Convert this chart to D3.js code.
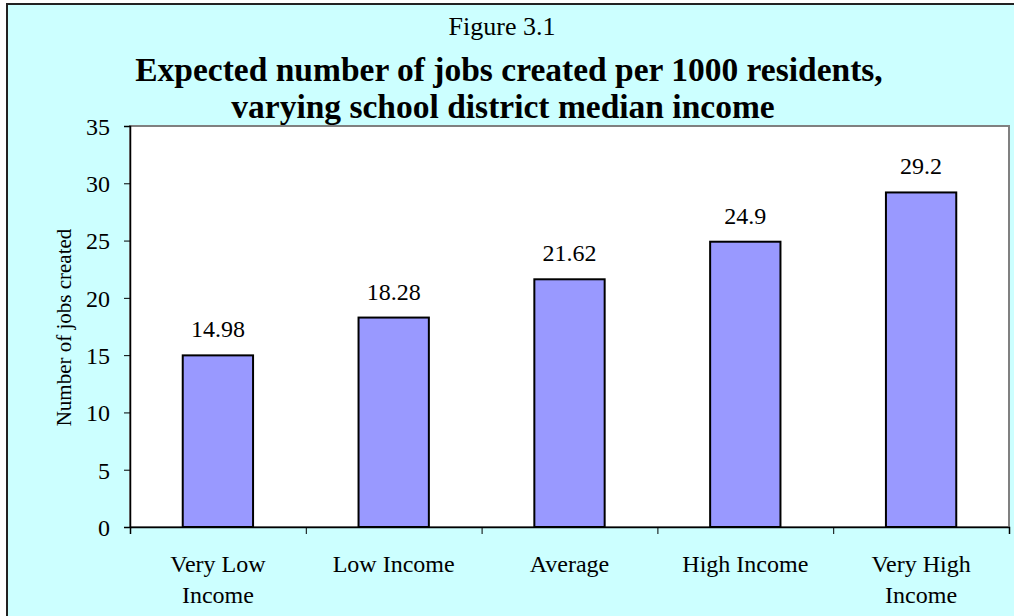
<!DOCTYPE html>
<html>
<head>
<meta charset="utf-8">
<script src="https://cdn.jsdelivr.net/npm/d3@7"></script>
<style>
  body { margin: 0; background: #ffffff; }
  text { font-family: "Liberation Serif", "Times New Roman", serif; fill: #000; }
</style>
</head>
<body>
<div id="chart"></div>
<script>
// DATA
const categories = [["Very Low", "Income"], ["Low Income"], ["Average"], ["High Income"], ["Very High", "Income"]];
const jobsCreated = [14.98, 18.28, 21.62, 24.9, 29.2];
const valueLabels = ["14.98", "18.28", "21.62", "24.9", "29.2"];
const yTicks = [0, 5, 10, 15, 20, 25, 30, 35];

const W = 1014, H = 616;
const plot = { left: 130, right: 1009, top: 126, bottom: 527 };

const svg = d3.select("#chart")
  .append("svg")
  .attr("width", W)
  .attr("height", H);

// background + outer border
svg.append("rect")
  .attr("x", 0).attr("y", 0).attr("width", W).attr("height", H)
  .attr("fill", "#ffffff");
svg.append("rect")
  .attr("x", 7).attr("y", 4).attr("width", W + 10).attr("height", H + 10)
  .attr("fill", "#ccffff")
  .attr("stroke", "#222")
  .attr("stroke-width", 2);

// plot area
svg.append("rect")
  .attr("x", plot.left).attr("y", plot.top)
  .attr("width", plot.right - plot.left).attr("height", plot.bottom - plot.top)
  .attr("fill", "#ffffff")
  .attr("stroke", "#808080")
  .attr("stroke-width", 2);

// SCALES
const xScale = d3.scaleBand()
  .domain(d3.range(categories.length))
  .range([plot.left, plot.right])
  .paddingInner(0.6)
  .paddingOuter(0.3);

const xBand = d3.scaleLinear()
  .domain([0, categories.length])
  .range([plot.left, plot.right]);

const yScale = d3.scaleLinear()
  .domain([0, 35])
  .range([plot.bottom, plot.top]);

// BARS
svg.selectAll(".bar")
  .data(jobsCreated)
  .enter().append("rect")
  .attr("class", "bar")
  .attr("x", (d, i) => xScale(i))
  .attr("y", d => yScale(d))
  .attr("width", xScale.bandwidth())
  .attr("height", d => yScale(0) - yScale(d))
  .attr("fill", "#9999ff")
  .attr("stroke", "#000")
  .attr("stroke-width", 2);

// value labels
svg.selectAll(".val")
  .data(jobsCreated)
  .enter().append("text")
  .attr("class", "val")
  .attr("x", (d, i) => xScale(i) + xScale.bandwidth() / 2)
  .attr("y", d => yScale(d) - 18)
  .attr("text-anchor", "middle")
  .attr("font-size", 24)
  .text((d, i) => valueLabels[i]);

// Y AXIS
const yAxis = svg.append("g")
  .attr("transform", `translate(${plot.left},0)`)
  .call(d3.axisLeft(yScale).tickValues(yTicks).tickSize(6).tickPadding(14));
yAxis.select(".domain").attr("stroke", "#000").attr("stroke-width", 1.5);
yAxis.selectAll(".tick line").attr("stroke", "#000");
yAxis.selectAll(".tick text")
  .attr("font-size", 24)
  .attr("font-family", "Liberation Serif, serif")
  .attr("dy", "0.35em");

// X AXIS
const xAxis = svg.append("g")
  .attr("transform", `translate(0,${plot.bottom})`)
  .call(d3.axisBottom(xBand).tickValues(d3.range(categories.length + 1)).tickSize(7).tickFormat(""));
xAxis.select(".domain").attr("stroke", "#000").attr("stroke-width", 1.5);
xAxis.selectAll(".tick line").attr("stroke", "#000");

// category labels
const catLabels = svg.selectAll(".cat")
  .data(categories)
  .enter().append("text")
  .attr("class", "cat")
  .attr("x", (d, i) => xScale(i) + xScale.bandwidth() / 2)
  .attr("y", 572)
  .attr("text-anchor", "middle")
  .attr("font-size", 24);
catLabels.each(function(d, i) {
  const t = d3.select(this);
  d.forEach((line, j) => {
    t.append("tspan")
      .attr("x", xScale(i) + xScale.bandwidth() / 2)
      .attr("dy", j === 0 ? 0 : 31)
      .text(line);
  });
});

// axis title
svg.append("text")
  .attr("transform", `translate(71,${(plot.top + plot.bottom) / 2 + 1}) rotate(-90)`)
  .attr("text-anchor", "middle")
  .attr("font-size", 21)
  .text("Number of jobs created");

// titles
svg.append("text")
  .attr("x", 502).attr("y", 35)
  .attr("text-anchor", "middle")
  .attr("font-size", 26)
  .text("Figure 3.1");

svg.append("text")
  .attr("x", 509).attr("y", 81)
  .attr("text-anchor", "middle")
  .attr("font-size", 33.5)
  .attr("font-weight", "bold")
  .text("Expected number of jobs created per 1000 residents,");

svg.append("text")
  .attr("x", 503).attr("y", 118)
  .attr("text-anchor", "middle")
  .attr("font-size", 33.5)
  .attr("font-weight", "bold")
  .text("varying school district median income");
</script>
</body>
</html>
